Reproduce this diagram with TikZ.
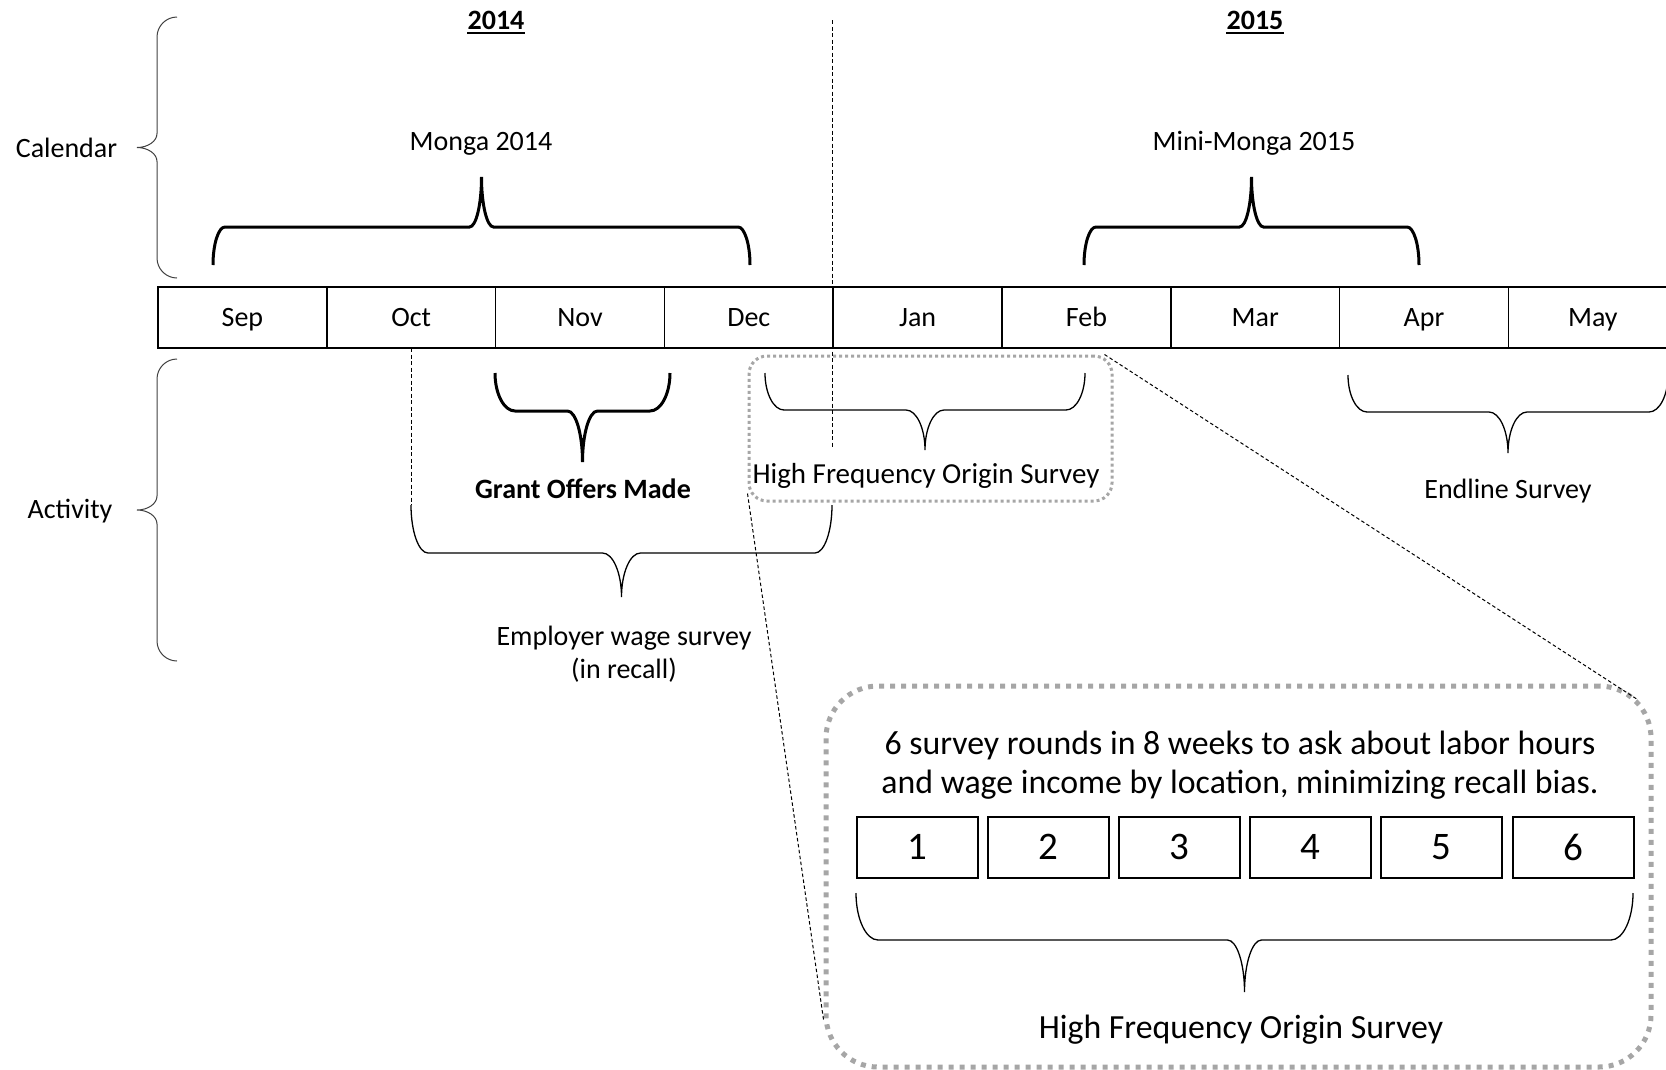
\documentclass[tikz,border=0pt]{standalone}
\usepackage{fontspec}
\setmainfont{Carlito}
\usetikzlibrary{positioning}

% office style curly brace: length/arm/tip/end radius/middle radius
\tikzset{
  pics/curly/.style args={#1/#2/#3/#4/#5}{code={
    \draw (0,0) .. controls (0,0.55*#2) and (0.45*#4,#2) .. (#4,#2)
      -- (#1/2-#5,#2) .. controls (#1/2-0.45*#5,#2) and (#1/2,#2+0.45*#3) .. (#1/2,#2+#3)
      .. controls (#1/2,#2+0.45*#3) and (#1/2+0.45*#5,#2) .. (#1/2+#5,#2)
      -- (#1-#4,#2) .. controls (#1-0.45*#4,#2) and (#1,0.55*#2) .. (#1,0);
  }}
}

\begin{document}
\begin{tikzpicture}[x=1pt,y=-1pt,
    txt/.style={font=\fontsize{28}{33}\selectfont, inner sep=0pt, anchor=base},
    month/.style={draw, line width=1.5pt, minimum width=168.8pt, minimum height=61pt,
      inner sep=0pt, outer sep=0pt, text height=22pt, text depth=4pt,
      font=\fontsize{28}{32}\selectfont},
    roundbox/.style={draw, line width=2pt, minimum width=121pt, minimum height=61pt,
      inner sep=0pt, outer sep=0pt, font=\fontsize{39}{44}\selectfont},
    zoombox/.style={draw=black!35, line width=3pt, dash pattern=on 3pt off 3pt,
      rounded corners=18pt, inner sep=0pt},
    detailbox/.style={draw=black!35, line width=5pt, dash pattern=on 5pt off 6pt,
      rounded corners=52pt, inner sep=0pt},
    guide/.style={line width=1pt, dash pattern=on 4pt off 2.5pt},
    zoomline/.style={line width=1pt, dash pattern=on 3.5pt off 2.5pt},
    thinbrace/.style={line width=1.3pt},
    boldbrace/.style={line width=3pt},
    sidebrace/.style={line width=1pt, black!75}]
  \useasboundingbox (0,0) rectangle (1666,1069);

  % years
  \node[txt, font=\fontsize{28}{32}\selectfont\bfseries] (y2014) at (496,29) {2014};
  \node[txt, font=\fontsize{28}{32}\selectfont\bfseries] (y2015) at (1255,29) {2015};
  \draw[line width=2pt] ([yshift=-4pt]y2014.south west) -- ([yshift=-4pt]y2014.south east);
  \draw[line width=2pt] ([yshift=-4pt]y2015.south west) -- ([yshift=-4pt]y2015.south east);
  \coordinate (splittop) at (832,20);
  \coordinate (splitend) at (832,447);
  \draw[guide] (splittop) -- (splitend);

  % row labels
  \node[txt] (calendar) at (66.5,157) {Calendar};
  \node[txt] (activity) at (70,518) {Activity};
  \pic[sidebrace, rotate=-90] at (177,17) {curly=261/20/20/20/14};
  \pic[sidebrace, rotate=-90] at (177,359) {curly=302/20/20/20/14};

  % months
  \node[month] (sep) at (242.4,317.5) {Sep};
  \node[month, right=0pt of sep] (oct) {Oct};
  \node[month, right=0pt of oct] (nov) {Nov};
  \node[month, right=0pt of nov] (dec) {Dec};
  \node[month, right=0pt of dec] (jan) {Jan};
  \node[month, right=0pt of jan] (feb) {Feb};
  \node[month, right=0pt of feb] (mar) {Mar};
  \node[month, right=0pt of mar] (apr) {Apr};
  \node[month, right=0pt of apr] (may) {May};
  \draw[line width=2.5pt] (sep.north west) rectangle (may.south east);

  % lean seasons
  \node[txt] (monga) at (481,150) {Monga 2014};
  \node[txt] (minimonga) at (1254,150) {Mini-Monga 2015};
  \pic[boldbrace, yscale=-1] at (213,265) {curly=537/38/50/12/12};
  \pic[boldbrace, yscale=-1] at (1084,265) {curly=335/38/50/12/12};

  % activities
  \pic[boldbrace] at (495,373) {curly=175/38/51/20/15};
  \node[txt, font=\fontsize{28}{32}\selectfont\bfseries] (grant) at (583,498) {Grant Offers Made};
  \draw[guide] (oct.south) -- ++(0,157);
  \pic[thinbrace] at (411,505) {curly=421/48/44/17/19};
  \node[txt, align=center] (employer) at (624,678) {Employer wage survey\\(in recall)};
  \node[zoombox, minimum width=363pt, minimum height=145pt] (hfzoom) at (930.5,428.5) {};
  \pic[thinbrace] at (765,373) {curly=320/37/40/19/19};
  \node[txt, font=\fontsize{29}{32}\selectfont] (hfos) at (926,483) {High Frequency Origin Survey};
  \pic[thinbrace] at (1348,375) {curly=320/37/41/19/19};
  \node[txt] (endline) at (1508,498) {Endline Survey};

  % survey rounds in detail
  \node[detailbox, minimum width=825pt, minimum height=381pt] (detail) at (1238.5,876.5) {};
  \node[txt, font=\fontsize{33.8}{39}\selectfont, align=center] (rounds) at (1240,793)
    {6 survey rounds in 8 weeks to ask about labor hours\\and wage income by location, minimizing recall bias.};
  \node[roundbox] (r1) at (917,847) {1};
  \node[roundbox, right=10.2pt of r1] (r2) {2};
  \node[roundbox, right=10.2pt of r2] (r3) {3};
  \node[roundbox, right=10.2pt of r3] (r4) {4};
  \node[roundbox, right=10.2pt of r4] (r5) {5};
  \node[roundbox, right=10.2pt of r5] (r6) {6};
  \pic[thinbrace] at (856,893) {curly=777/47/52/22/17};
  \node[txt, font=\fontsize{33.8}{37}\selectfont] (hfoslabel) at (1241,1038) {High Frequency Origin Survey};
  \draw[zoomline] ([xshift=-9pt]hfzoom.north east) -- ([xshift=-16pt,yshift=-16pt]detail.north east);
  \draw[zoomline] ([yshift=9pt]hfzoom.south west) -- ([yshift=50pt]detail.south west);
\end{tikzpicture}
\end{document}
